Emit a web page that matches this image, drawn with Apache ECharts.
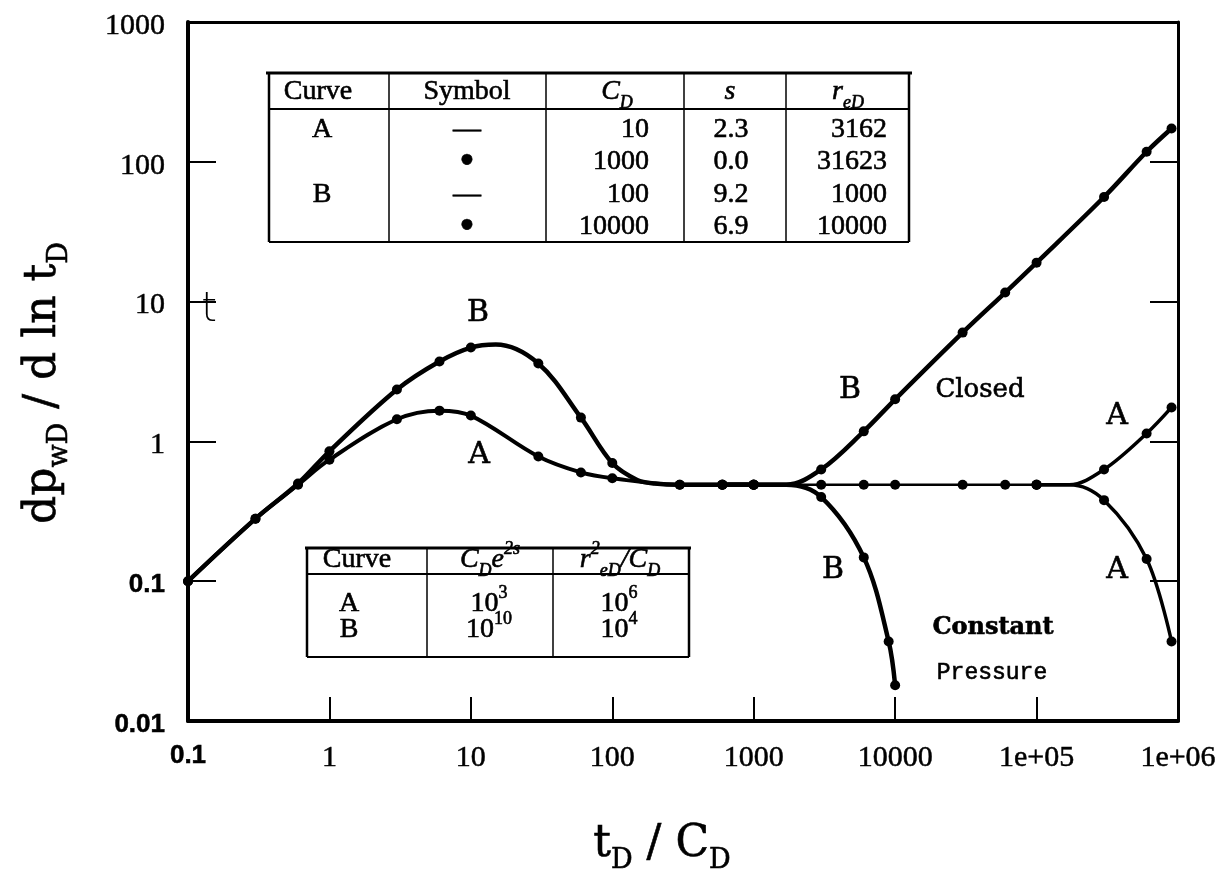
<!DOCTYPE html>
<html>
<head>
<meta charset="utf-8">
<script src="https://cdn.jsdelivr.net/npm/echarts@6/dist/echarts.min.js"></script>
<style>
  html, body { margin: 0; padding: 0; background: #fff; }
  #chart { width: 1230px; height: 885px; }
</style>
</head>
<body>
<div id="chart"></div>
<script>
// ---- tick labels ----
const xTickLabels = ['0.1', '1', '10', '100', '1000', '10000', '1e+05', '1e+06'];
const yTickLabels = ['0.01', '0.1', '1', '10', '100', '1000'];

// sampling times that carry a filled circle on every curve
const dotTimes = [0.1, 0.3, 0.6, 1, 3, 6, 10, 30, 60, 100, 300, 600, 1000,
  3000, 6000, 9000, 10000, 30000, 60000, 100000, 300000, 600000, 900000];

// curve A: wellbore storage hump into radial flow
const aT = [0.1, 0.3, 0.6, 1, 3, 6, 10, 30, 60, 100, 300, 600, 1000];
const aV = [0.1, 0.28, 0.49, 0.74, 1.44, 1.66, 1.53, 0.78, 0.60, 0.545, 0.49, 0.49, 0.49];
// curve A: radial flow plateau
const aFlatT = [1000, 3000, 6000, 10000, 30000, 60000, 100000, 170000];
const aFlatV = [0.49, 0.49, 0.49, 0.49, 0.49, 0.49, 0.49, 0.49];
// curve A: boundary responses
const aClosedT = [100000, 170000, 300000, 600000, 900000];
const aClosedV = [0.49, 0.49, 0.63, 1.14, 1.75];
const aConstT = [100000, 170000, 300000, 600000, 900000];
const aConstV = [0.49, 0.49, 0.38, 0.144, 0.037];

// curve B: wellbore storage hump into radial flow
const bT = [0.1, 0.3, 0.6, 1, 3, 6, 10, 15, 30, 60, 100, 150, 200, 300, 600, 1000];
const bV = [0.1, 0.28, 0.50, 0.85, 2.35, 3.73, 4.69, 4.93, 3.61, 1.48, 0.70, 0.53, 0.50, 0.49, 0.49, 0.49];
// curve B: boundary responses
const bClosedT = [600, 1000, 1700, 3000, 6000, 10000, 30000, 60000, 100000, 300000, 600000, 900000];
const bClosedV = [0.49, 0.49, 0.49, 0.63, 1.18, 2.0, 6.0, 11.6, 19, 56, 118, 173];
const bConstT = [600, 1000, 1700, 3000, 6000, 9000, 10000];
const bConstV = [0.49, 0.49, 0.49, 0.40, 0.148, 0.037, 0.018];

// ---- tables ----
const table1Head = ['Curve', 'Symbol', '{i|C}{isub|D}', '{i|s}', '{i|r}{isub|eD}'];
const table1Rows = [
  ['A', '—', '10', '2.3', '3162'],
  ['', '{dot|•}', '1000', '0.0', '31623'],
  ['B', '—', '100', '9.2', '1000'],
  ['', '{dot|•}', '10000', '6.9', '10000']
];
const table2Head = ['Curve', '{i|C}{isub|D}{i|e}{isup|2s}', '{i|r}{isup|2}{isub|eD}{i|/C}{isub|D}'];
const table2Rows = [
  ['A', '10{sup|3}', '10{sup|6}'],
  ['B', '10{sup|10}', '10{sup|4}']
];

// ---- curve annotations ----
const curveNotes = [
  { text: 'B', x: 478, y: 313 },
  { text: 'A', x: 479, y: 455 },
  { text: 'B', x: 850, y: 390 },
  { text: 'A', x: 1117, y: 416 },
  { text: 'B', x: 833, y: 570 },
  { text: 'A', x: 1117, y: 570 }
];

const chart = echarts.init(document.getElementById('chart'), null, { renderer: 'canvas' });

const SERIF = "'Liberation Serif', 'Times New Roman', serif";
const BOOK = "'DejaVu Serif', serif";
// slight ink spread on printed text
const INK = { stroke: '#000', lineWidth: 0.6 };

function curveData(ts, vs) {
  return ts.map((t, i) => ({
    value: [t, vs[i]],
    symbol: dotTimes.indexOf(t) >= 0 ? 'circle' : 'none'
  }));
}

function curve(name, ts, vs, width) {
  return {
    name: name,
    type: 'line',
    smooth: 0.35,
    data: curveData(ts, vs),
    symbolSize: 10,
    showSymbol: true,
    showAllSymbol: true,
    lineStyle: { color: '#000', width: width },
    itemStyle: { color: '#000' },
    emphasis: { disabled: true },
    z: 3
  };
}

// table helpers
const richTable = {
  i: { fontFamily: SERIF, fontStyle: 'italic', fontSize: 28, lineHeight: 40 },
  isub: { fontFamily: SERIF, fontStyle: 'italic', fontSize: 18, lineHeight: 26, verticalAlign: 'bottom' },
  isup: { fontFamily: SERIF, fontStyle: 'italic', fontSize: 18, lineHeight: 18, verticalAlign: 'top' },
  sup: { fontFamily: SERIF, fontSize: 18, lineHeight: 18, verticalAlign: 'top' },
  dot: { fontFamily: SERIF, fontSize: 44, lineHeight: 40 }
};
function tText(str, x, y, align) {
  return {
    type: 'text', x: x, y: y, z: 10,
    style: Object.assign({
      text: str, align: align || 'center', verticalAlign: 'middle',
      fontFamily: SERIF, fontSize: 28, lineHeight: 40, fill: '#000', rich: richTable
    }, INK)
  };
}
function seg(x1, y1, x2, y2, w) {
  return {
    type: 'line', z: 10,
    shape: { x1: x1, y1: y1, x2: x2, y2: y2 },
    style: { stroke: '#000', lineWidth: w }
  };
}

const graphics = [];

// table 1 frame
(function () {
  const cols = [269, 389, 546, 684, 786, 909];
  const top = 73, head = 109, bottom = 242;
  graphics.push({ type: 'rect', z: 9, shape: { x: 269, y: top, width: 640, height: bottom - top }, style: { fill: '#fff' } });
  graphics.push(seg(266, top, 912, top, 3));
  graphics.push(seg(269, head, 909, head, 2));
  graphics.push(seg(269, bottom, 909, bottom, 2));
  cols.forEach((x, k) => graphics.push(seg(x, top, x, bottom, (k === 0 || k === cols.length - 1) ? 2.5 : 1.5)));
  const headX = [318, 467, 617, 730, 848];
  table1Head.forEach((h, k) => graphics.push(tText(h, headX[k], 92, 'center')));
  const rowY = [130, 162, 195, 227];
  table1Rows.forEach((r, j) => {
    graphics.push(tText(r[0], 322, rowY[j], 'center'));
    graphics.push(tText(r[1], 467, rowY[j], 'center'));
    graphics.push(tText(r[2], 649, rowY[j], 'right'));
    graphics.push(tText(r[3], 731, rowY[j], 'center'));
    graphics.push(tText(r[4], 887, rowY[j], 'right'));
  });
})();

// table 2 frame
(function () {
  const cols = [307, 427, 553, 689];
  const top = 548, head = 574, bottom = 657;
  graphics.push({ type: 'rect', z: 9, shape: { x: 307, y: top, width: 382, height: bottom - top }, style: { fill: '#fff' } });
  graphics.push(seg(305, top, 691, top, 3));
  graphics.push(seg(307, head, 689, head, 2));
  graphics.push(seg(307, bottom, 689, bottom, 2));
  cols.forEach((x, k) => graphics.push(seg(x, top, x, bottom, (k === 0 || k === cols.length - 1) ? 2.5 : 1.5)));
  const headX = [357, 490, 620];
  table2Head.forEach((h, k) => graphics.push(tText(h, headX[k], 560, 'center')));
  const rowY = [604, 630];
  table2Rows.forEach((r, j) => {
    graphics.push(tText(r[0], 349, rowY[j], 'center'));
    graphics.push(tText(r[1], 489, rowY[j], 'center'));
    graphics.push(tText(r[2], 619, rowY[j], 'center'));
  });
})();

// curve letters and boundary names
curveNotes.forEach(n => graphics.push({
  type: 'text', x: n.x, y: n.y, z: 10,
  style: Object.assign({ text: n.text, align: 'center', verticalAlign: 'middle', fontFamily: BOOK, fontSize: 30, fill: '#000' }, INK)
}));
graphics.push({
  type: 'text', x: 980, y: 390, z: 10,
  style: Object.assign({ text: 'Closed', align: 'center', verticalAlign: 'middle', fontFamily: BOOK, fontSize: 26, fill: '#000' }, INK)
});
graphics.push({
  type: 'text', x: 993, y: 628, z: 10,
  style: Object.assign({ text: 'Constant', align: 'center', verticalAlign: 'middle', fontFamily: BOOK, fontWeight: 'bold', fontSize: 24, fill: '#000' }, INK)
});
graphics.push({
  type: 'text', x: 992, y: 673, z: 10,
  style: Object.assign({ text: 'Pressure', align: 'center', verticalAlign: 'middle', fontFamily: "'Liberation Mono', monospace", fontSize: 23, fill: '#000' }, INK)
});
graphics.push({
  type: 'text', x: 209, y: 311, z: 10,
  style: { text: 't', align: 'center', verticalAlign: 'middle', fontFamily: "'DejaVu Sans', sans-serif", fontWeight: 200, fontSize: 40, fill: '#000' }
});

// axis titles
const richTitle = {
  m: { fontFamily: BOOK, fontSize: 44, lineHeight: 58 },
  s: { fontFamily: BOOK, fontSize: 27, lineHeight: 30, verticalAlign: 'bottom' }
};
graphics.push({
  type: 'text', x: 662, y: 845, z: 10,
  style: Object.assign({ text: '{m|t}{s|D}{m| / C}{s|D}', align: 'center', verticalAlign: 'middle', rich: richTitle, fill: '#000' }, INK)
});
graphics.push({
  type: 'text', x: 44, y: 383, rotation: Math.PI / 2, z: 10,
  style: Object.assign({ text: '{m|dp}{s|wD}{m| / d ln t}{s|D}', align: 'center', verticalAlign: 'middle', rich: richTitle, fill: '#000' }, INK)
});

const boldSans = { fontFamily: "'Liberation Sans', Arial, sans-serif", fontWeight: 'bold', fontSize: 26 };

const option = {
  animation: false,
  backgroundColor: '#fff',
  grid: { left: 188, right: 52, top: 22, bottom: 164, containLabel: false },
  xAxis: [
    {
      type: 'log', logBase: 10, min: 0.1, max: 1e6, position: 'bottom',
      axisLine: { show: true, onZero: false, lineStyle: { color: '#000', width: 4 } },
      axisTick: { show: true, inside: true, length: 24, lineStyle: { color: '#000', width: 2 } },
      minorTick: { show: false },
      splitLine: { show: false },
      axisLabel: {
        show: true, margin: 22, color: '#000', fontFamily: SERIF, fontSize: 30,
        textBorderColor: '#000', textBorderWidth: 0.5,
        showMinLabel: true, showMaxLabel: true,
        formatter: v => {
          const lab = xTickLabels[Math.round(Math.log10(v)) + 1];
          return lab === '0.1' ? '{b|' + lab + '}' : lab;
        },
        rich: { b: boldSans }
      }
    },
    {
      type: 'log', logBase: 10, min: 0.1, max: 1e6, position: 'top',
      axisLine: { show: true, onZero: false, lineStyle: { color: '#000', width: 3 } },
      axisTick: { show: false }, axisLabel: { show: false }, splitLine: { show: false }
    }
  ],
  yAxis: [
    {
      type: 'log', logBase: 10, min: 0.01, max: 1000, position: 'left',
      axisLine: { show: true, onZero: false, lineStyle: { color: '#000', width: 4 } },
      axisTick: { show: true, inside: true, length: 28, lineStyle: { color: '#000', width: 2 } },
      minorTick: { show: false },
      splitLine: { show: false },
      axisLabel: {
        show: true, margin: 23, color: '#000', fontFamily: SERIF, fontSize: 30,
        textBorderColor: '#000', textBorderWidth: 0.5,
        padding: [8, 0, 0, 0],
        showMinLabel: true, showMaxLabel: true,
        formatter: v => {
          const lab = yTickLabels[Math.round(Math.log10(v)) + 2];
          return (lab === '0.1' || lab === '0.01') ? '{b|' + lab + '}' : lab;
        },
        rich: { b: boldSans }
      }
    },
    {
      type: 'log', logBase: 10, min: 0.01, max: 1000, position: 'right',
      axisLine: { show: true, onZero: false, lineStyle: { color: '#000', width: 3 } },
      axisTick: { show: true, inside: true, length: 28, lineStyle: { color: '#000', width: 2 } },
      axisLabel: { show: false }, splitLine: { show: false }
    }
  ],
  series: [
    curve('A', aT, aV, 4),
    curve('A plateau', aFlatT, aFlatV, 2.5),
    curve('A closed', aClosedT, aClosedV, 3.5),
    curve('A constant pressure', aConstT, aConstV, 3.5),
    curve('B', bT, bV, 4.5),
    curve('B closed', bClosedT, bClosedV, 4.5),
    curve('B constant pressure', bConstT, bConstV, 4.5)
  ],
  graphic: graphics
};

chart.setOption(option);
</script>
</body>
</html>
